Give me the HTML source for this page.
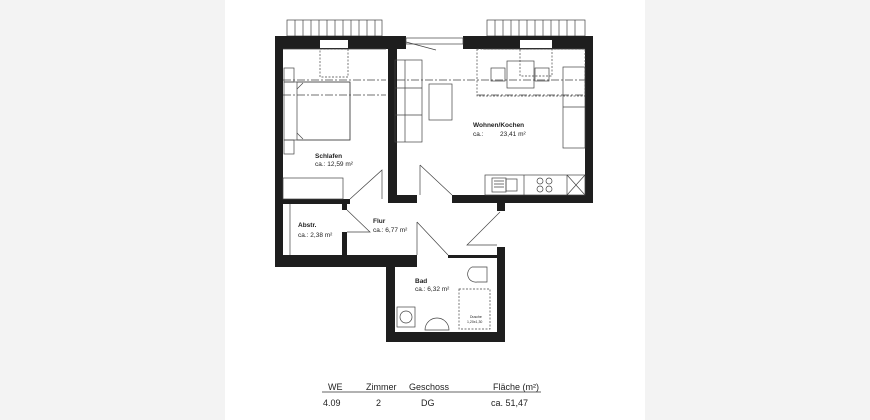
<!DOCTYPE html>
<html><head><meta charset="utf-8"><style>
html,body{margin:0;padding:0;background:#f3f3f3;}
svg{display:block}
text{font-family:"Liberation Sans",sans-serif;fill:#222}
</style></head><body>
<svg width="870" height="420" viewBox="0 0 870 420" xmlns="http://www.w3.org/2000/svg">
<rect x="0" y="0" width="870" height="420" fill="#f3f3f3"/>
<rect x="225" y="0" width="420" height="420" fill="#fff"/>
<!-- balconies -->
<g stroke="#444" stroke-width="0.7" fill="none">
<rect x="287" y="20" width="95" height="16"/>
<rect x="487" y="20" width="98" height="16"/>
<path d="M295 20v16M303 20v16M311 20v16M319 20v16M327 20v16M335 20v16M343 20v16M351 20v16M359 20v16M367 20v16M375 20v16"/>
<path d="M495 20v16M503 20v16M511 20v16M519 20v16M527 20v16M535 20v16M543 20v16M551 20v16M559 20v16M567 20v16M575 20v16"/>
</g>
<!-- walls -->
<g fill="#1e1e1e">
<rect x="275" y="36" width="131" height="13"/>
<rect x="463" y="36" width="130" height="13"/>
<rect x="275" y="36" width="8" height="231"/>
<rect x="585" y="36" width="8" height="167"/>
<rect x="388" y="36" width="9" height="167"/>
<rect x="388" y="195" width="29" height="8"/>
<rect x="452" y="195" width="141" height="8"/>
<rect x="497" y="203" width="8" height="8"/>
<rect x="283" y="199" width="67" height="5"/>
<rect x="342" y="204" width="5" height="6"/>
<rect x="342" y="232" width="5" height="23"/>
<rect x="275" y="255" width="142" height="12"/>
<rect x="386" y="255" width="9" height="87"/>
<rect x="386" y="332" width="119" height="10"/>
<rect x="497" y="247" width="8" height="95"/>
<rect x="448" y="255" width="49" height="3"/>
</g>
<rect x="320" y="40" width="28" height="8" fill="#fff"/>
<rect x="520" y="40" width="32" height="8" fill="#fff"/>
<g stroke="#444" stroke-width="0.7" fill="none">
<rect x="406" y="38" width="57" height="6"/>
<path d="M406 42l30 8M283 49h103M483 49h102"/>
<rect x="320" y="49" width="28" height="28" stroke-dasharray="2 1.5"/>
<rect x="477" y="49" width="108" height="47" stroke-dasharray="2 1.5"/>
<rect x="520" y="49" width="32" height="27" stroke-dasharray="2 1.5"/>
<path d="M283 80h103M397 80h188M283 95h103M477 95h108" stroke-dasharray="8 2 2 2"/>
<!-- bed -->
<rect x="284" y="82" width="66" height="58"/>
<rect x="297" y="82" width="53" height="58"/>
<rect x="284" y="68" width="10" height="14"/><rect x="284" y="140" width="10" height="14"/>
<path d="M297 89l6-6M297 133l6 6"/>
<rect x="283" y="178" width="60" height="21"/>
<!-- living -->
<rect x="395" y="60" width="27" height="82"/>
<path d="M405 60v82M395 88h27M395 115h27"/>
<rect x="429" y="84" width="23" height="36"/>
<rect x="507" y="61" width="27" height="27"/>
<rect x="491" y="68" width="14" height="13"/><rect x="535" y="68" width="14" height="13"/>
<rect x="563" y="67" width="22" height="81"/><path d="M563 107h22"/>
<rect x="485" y="175" width="100" height="20"/>
<path d="M567 175v20M567 175l18 20M585 175l-18 20M524 175v20"/>
<rect x="492" y="178" width="14" height="14"/><path d="M494 181h10M494 184h10M494 187h10"/><rect x="506" y="179" width="11" height="12"/>
<circle cx="540" cy="181" r="3"/><circle cx="549" cy="181" r="3"/><circle cx="540" cy="189" r="3"/><circle cx="549" cy="189" r="3"/>
<!-- doors -->
<path d="M420 165v30M420 165l32 30"/>
<path d="M350 199l32-29v29"/>
<path d="M347 210l23 22h-23"/>
<path d="M290 204v51"/>
<path d="M417 222v33M417 222l31 33"/>
<path d="M500 212l-33 33h30"/>
<!-- bath -->
<path d="M472 267h15v15h-10a8 8 0 0 1-5-15z"/>
<rect x="459" y="289" width="31" height="40" stroke-dasharray="2 1.5"/>
<rect x="397" y="307" width="18" height="20"/><circle cx="406" cy="317" r="6"/>
<path d="M425 330a12 12 0 0 1 24 0z"/>
</g>
<g font-size="6.5" font-weight="bold">
<text x="315" y="158">Schlafen</text>
<text x="473" y="127">Wohnen/Kochen</text>
<text x="298" y="227">Abstr.</text>
<text x="373" y="223">Flur</text>
<text x="415" y="283">Bad</text>
</g>
<g font-size="6.5">
<text x="315" y="166">ca.: 12,59 m²</text>
<text x="473" y="136">ca.:</text><text x="500" y="136">23,41 m²</text>
<text x="298" y="237">ca.: 2,38 m²</text>
<text x="373" y="232">ca.: 6,77 m²</text>
<text x="415" y="291">ca.: 6,32 m²</text>
<text x="470" y="318" font-size="3.5">Dusche</text>
<text x="467" y="323" font-size="3.5">1,20x1,30</text>
</g>
<g font-size="9">
<text x="328" y="390">WE</text><text x="366" y="390">Zimmer</text><text x="409" y="390">Geschoss</text><text x="493" y="390">Fläche (m²)</text>
<text x="323" y="406">4.09</text><text x="376" y="406">2</text><text x="421" y="406">DG</text><text x="491" y="406">ca. 51,47</text>
</g>
<path d="M322 392h219" stroke="#333" stroke-width="0.7"/>
</svg>
</body></html>
